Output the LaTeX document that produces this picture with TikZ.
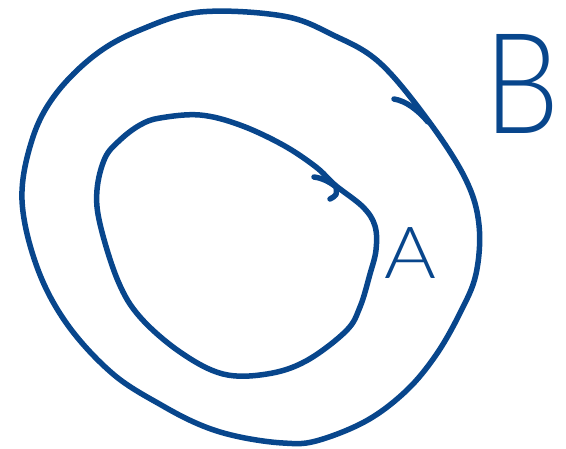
\documentclass[tikz,border=0pt]{standalone}
\usepackage{fontspec}
\setmainfont{Lato}[UprightFont=* Light]
\definecolor{ink}{RGB}{8,70,140}
\begin{document}
\begin{tikzpicture}[x=1pt,y=-1pt,
  stroke/.style={draw=ink,line width=5.5pt,line cap=round,line join=round},
  lbl/.style={text=ink,inner sep=0pt}]
\useasboundingbox (0,0) rectangle (566,448);
% outer loop B
\draw[stroke] plot[smooth cycle,tension=0.6] coordinates {
 (200,12) (283,16) (333,35) (380,63) (430,123) (466,180) (479,225)
 (476,274) (460,313) (436,355) (406,391) (366,421) (316,441) (283,443)
 (240,437) (203,426) (163,406) (113,374) (67,324) (37,267) (22,200) (32,140)
 (55,95) (95,55) (140,30)};
% inner loop A
\draw[stroke] plot[smooth cycle,tension=0.6] coordinates {
 (200,115) (240,125) (283,145) (316,167) (335,185) (363,207) (375,226)
 (376,250) (370,274) (360,307) (346,331) (306,361) (267,374) (223,374)
 (180,352) (140,317) (118,281) (100,224) (97,190) (105,158) (120,140)
 (140,125) (160,118)};
% arrow marks
\draw[stroke] (394,99) .. controls (406,101) and (418,110) .. (428,122);
\draw[stroke] (314,177) .. controls (322,178) and (330,182) .. (336,187)
  .. controls (337,195) .. (330,199);
% labels
\node[lbl,font=\fontsize{72}{72}\selectfont,xscale=1.1] (A) at (410,253) {A};
\node[lbl,font=\fontsize{140}{140}\selectfont,xscale=0.85] (B) at (522,84) {B};
\end{tikzpicture}
\end{document}
